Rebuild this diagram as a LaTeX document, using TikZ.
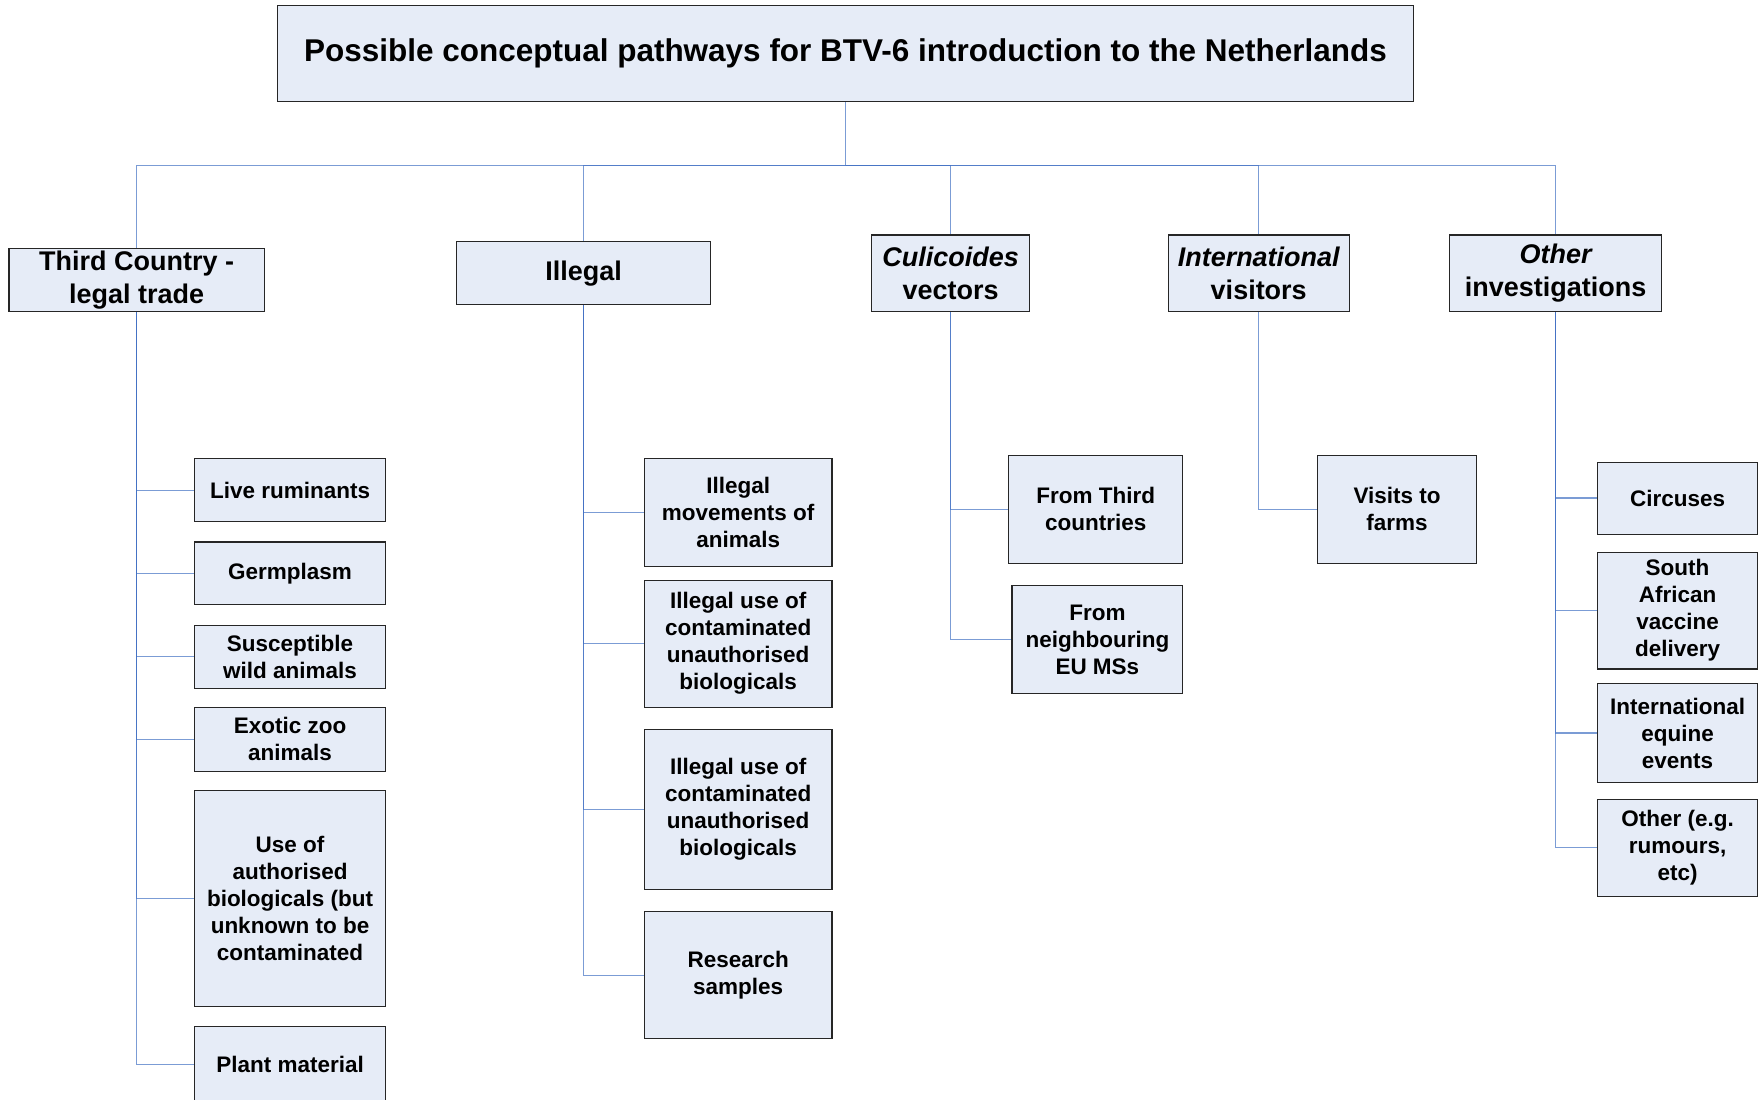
\documentclass[tikz,border=0pt]{standalone}
\usepackage{fontspec}
\setmainfont{Liberation Sans}
\definecolor{boxfill}{RGB}{230,236,247}
\definecolor{connblue}{RGB}{68,114,196}
\begin{document}
\begin{tikzpicture}[x=1pt,y=-1pt,
  box/.style={draw=black!85, line width=1pt, fill=boxfill, inner sep=2pt, align=center, font=\bfseries\fontsize{20}{24}\selectfont},
  head/.style={box, font=\bfseries\fontsize{24}{29}\selectfont},
  titlebox/.style={box, font=\bfseries\fontsize{28}{32}\selectfont},
  conn/.style={draw=connblue, line width=1.1pt, draw opacity=0.7}]
\clip (0,0) rectangle (1568,978);
\fill[white] (0,0) rectangle (1568,978);
% title
\node[titlebox, minimum width=1010, minimum height=85] (title) at (752,47.5) {Possible conceptual pathways for BTV-6 introduction to the Netherlands};
% level 2
\node[head, minimum width=227, minimum height=56] (tc) at (121.5,249) {Third Country -\\legal trade};
\node[head, minimum width=226, minimum height=56] (il) at (519,243) {Illegal};
\node[head, minimum width=141, minimum height=68] (cu) at (845.5,243) {\textit{Culicoides}\\vectors};
\node[head, minimum width=161, minimum height=68] (iv) at (1119.5,243) {\itshape International\\visitors};
\node[head, minimum width=189, minimum height=68] (ot) at (1383.5,243) {\itshape Other\\investigations};
% third country children
\node[box, minimum width=170, minimum height=56] (lr) at (258,436) {Live ruminants};
\node[box, minimum width=170, minimum height=56] (gp) at (258,510) {Germplasm};
\node[box, minimum width=170, minimum height=56] (sw) at (258,584) {Susceptible\\wild animals};
\node[box, minimum width=170, minimum height=57] (ez) at (258,657.5) {Exotic zoo\\animals};
\node[box, minimum width=170, minimum height=192] (ua) at (258,799) {Use of\\authorised\\biologicals (but\\unknown to be\\contaminated};
\node[box, minimum width=170, minimum height=68] (pm) at (258,947) {Plant material};
% illegal children
\node[box, minimum width=167, minimum height=96] (im) at (656.5,456) {Illegal\\movements of\\animals};
\node[box, minimum width=167, minimum height=113] (iua) at (656.5,572.5) {Illegal use of\\contaminated\\unauthorised\\biologicals};
\node[box, minimum width=167, minimum height=142] (iub) at (656.5,720) {Illegal use of\\contaminated\\unauthorised\\biologicals};
\node[box, minimum width=167, minimum height=113] (rs) at (656.5,867.5) {Research\\samples};
% culicoides children
\node[box, minimum width=155, minimum height=96] (ft) at (974.5,453) {From Third\\countries};
\node[box, minimum width=152, minimum height=96] (fn) at (976,569) {From\\neighbouring\\EU MSs};
% visitors child
\node[box, minimum width=141, minimum height=96] (vf) at (1242.5,453) {Visits to\\farms};
% other children
\node[box, minimum width=142, minimum height=64] (ci) at (1492,443) {Circuses};
\node[box, minimum width=142, minimum height=104] (sa) at (1492,543) {South\\African\\vaccine\\delivery};
\node[box, minimum width=142, minimum height=88] (ie) at (1492,652) {International\\equine\\events};
\node[box, minimum width=142, minimum height=86] (oe) at (1492,754) {Other (e.g.\\rumours,\\etc)};
% connectors
\coordinate (bus) at (752,147);
\draw[conn] (title.south) -- (bus);
\foreach \n in {tc,il,cu,iv,ot} \draw[conn] (bus) -| (\n.north);
\foreach \n in {lr,gp,sw,ez,ua,pm} \draw[conn] (tc.south) |- (\n.west);
\foreach \n in {im,iua,iub,rs} \draw[conn] (il.south) |- (\n.west);
\foreach \n in {ft,fn} \draw[conn] (cu.south) |- (\n.west);
\draw[conn] (iv.south) |- (vf.west);
\foreach \n in {ci,sa,ie,oe} \draw[conn] (ot.south) |- (\n.west);
\end{tikzpicture}
\end{document}
